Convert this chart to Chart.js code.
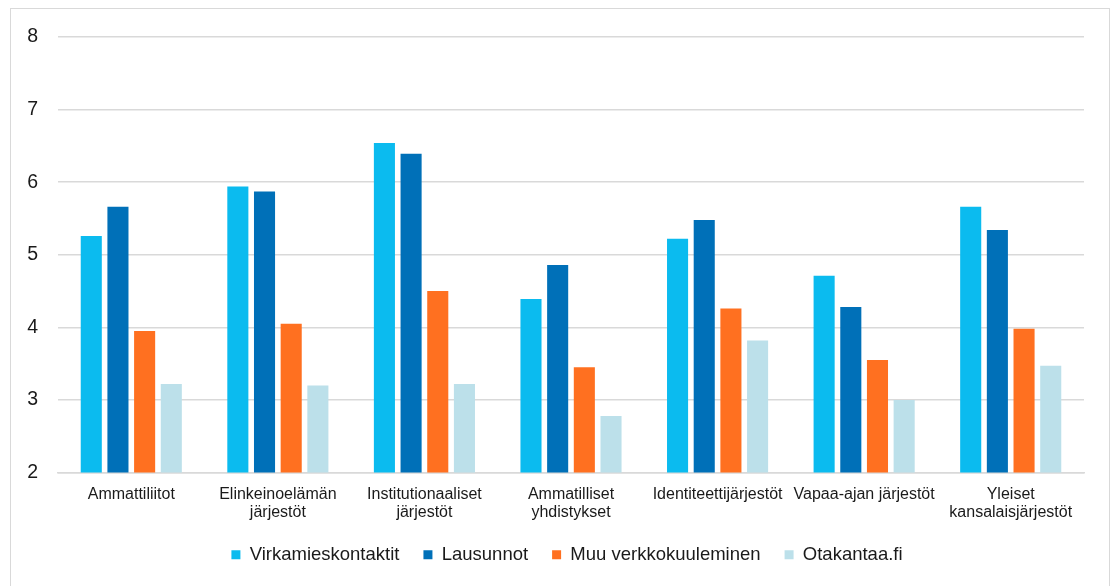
<!DOCTYPE html>
<html>
<head>
<meta charset="utf-8">
<script src="https://cdn.jsdelivr.net/npm/chart.js@4/dist/chart.umd.min.js"></script>
<style>
  html, body { margin: 0; padding: 0; background: #fff; }
  #wrap { position: relative; width: 1114px; height: 586px; }
  #frame { position: absolute; left: 10px; top: 8px; width: 1100px; height: 590px; border: 1px solid #d9d9d9; box-sizing: border-box; }
  canvas { position: absolute; left: 0; top: 0; }
</style>
</head>
<body>
<div id="wrap">
  <div id="frame"></div>
  <canvas id="chart" width="1114" height="586"></canvas>
</div>
<script>
// categories
let categories = [
    "Ammattiliitot",
    ["Elinkeinoelämän", "järjestöt"],
    ["Institutionaaliset", "järjestöt"],
    ["Ammatilliset", "yhdistykset"],
    "Identiteettijärjestöt",
    "Vapaa-ajan järjestöt",
    ["Yleiset", "kansalaisjärjestöt"]
];

// series values
let virkamieskontaktit = [5.26, 5.94, 6.54, 4.39, 5.22, 4.71, 5.66];
let lausunnot = [5.66, 5.87, 6.39, 4.86, 5.48, 4.28, 5.34];
let muuVerkkokuuleminen = [3.95, 4.05, 4.50, 3.45, 4.26, 3.55, 3.98];
let otakantaa = [3.22, 3.20, 3.22, 2.78, 3.82, 3.00, 3.47];

let seriesNames = ["Virkamieskontaktit", "Lausunnot", "Muu verkkokuuleminen", "Otakantaa.fi"];
let colors = ["#0bbbef", "#0070b8", "#ff7020", "#bce0ea"];

let yTicks = [2, 3, 4, 5, 6, 7, 8];

let seriesValues = [virkamieskontaktit, lausunnot, muuVerkkokuuleminen, otakantaa];

let datasets = seriesValues.map((vals, i) => ({
    label: seriesNames[i],
    data: vals,
    backgroundColor: colors[i],
    borderWidth: 0,
    barPercentage: 0.79,
    categoryPercentage: 0.728
}));

// legend sits a bit right of the canvas centre in the original
let shiftLegend = {
    id: "shiftLegend",
    afterLayout(chart) {
        chart.legend.left += 20;
        chart.legend.right += 20;
    }
};

let ctx = document.getElementById("chart").getContext("2d");

new Chart(ctx, {
    type: "bar",
    data: {
        labels: categories,
        datasets: datasets
    },
    plugins: [shiftLegend],
    options: {
        responsive: false,
        animation: false,
        layout: {
            padding: { left: 10, right: 30, top: 37, bottom: 12 }
        },
        plugins: {
            tooltip: { enabled: false },
            legend: {
                position: "bottom",
                labels: {
                    color: "#1a1a1a",
                    font: { family: "Liberation Sans, Arial, sans-serif", size: 18.5 },
                    boxWidth: 9,
                    boxHeight: 9,
                    padding: 24
                }
            }
        },
        scales: {
            x: {
                afterFit: function (scale) { scale.height = 49; },
                grid: { display: false, drawTicks: false },
                border: { color: "#d9d9d9", width: 1.5 },
                ticks: {
                    color: "#1a1a1a",
                    font: { family: "Liberation Sans, Arial, sans-serif", size: 16, lineHeight: 1.12 },
                    maxRotation: 0,
                    autoSkip: false,
                    padding: 13
                }
            },
            y: {
                min: 2,
                max: 8,
                afterFit: function (scale) { scale.width = 48; },
                afterBuildTicks: function (scale) {
                    scale.ticks = yTicks.map(v => ({ value: v }));
                },
                grid: { color: "#d9d9d9", lineWidth: 1.5, drawTicks: false },
                border: { display: false },
                ticks: {
                    color: "#1a1a1a",
                    font: { family: "Liberation Sans, Arial, sans-serif", size: 19.5 },
                    padding: 20
                }
            }
        }
    }
});
</script>
</body>
</html>
